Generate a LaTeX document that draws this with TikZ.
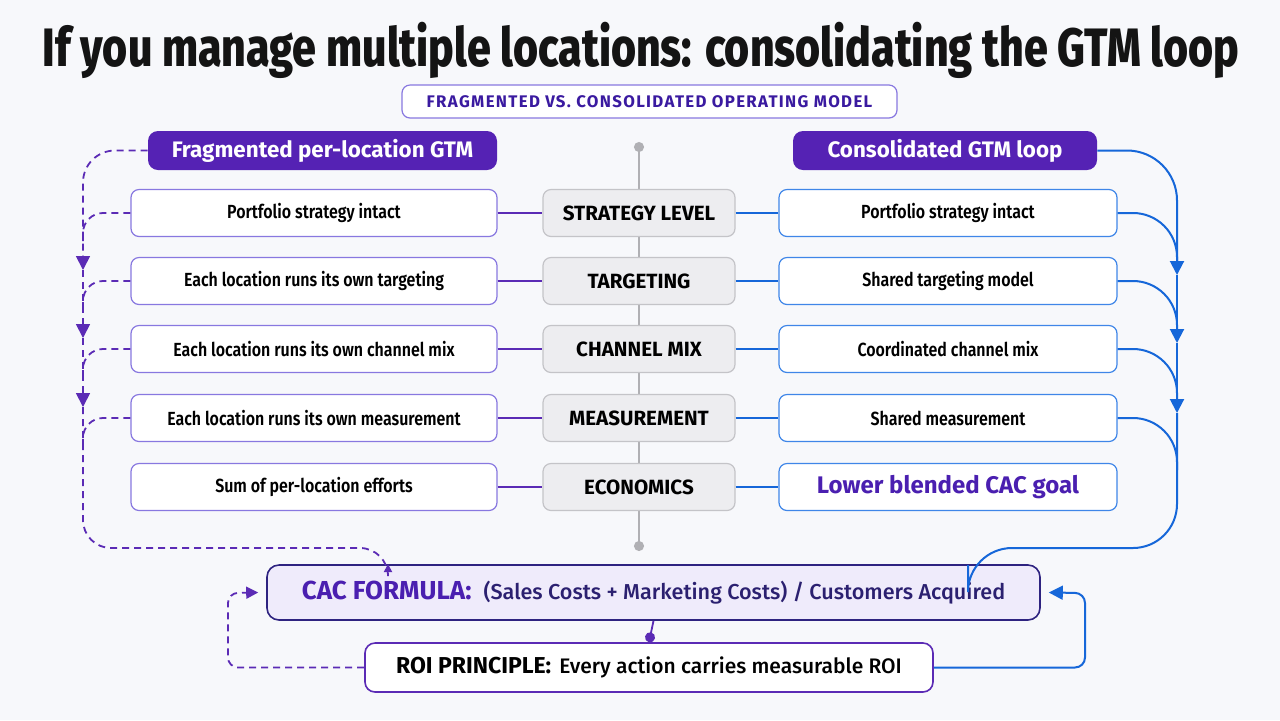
\documentclass[tikz,border=0pt]{standalone}
\usepackage{fontspec}
\setmainfont{Fira Sans}
\newfontfamily\titlefont{Fira Sans}[UprightFont=* ExtraBold, FakeStretch=0.795]
\newfontfamily\condfont{Fira Sans}[UprightFont=* SemiBold, FakeStretch=0.84]
\newfontfamily\medfont{Fira Sans}[UprightFont=* Medium]
\usepackage{xcolor}
\usepackage{tikz}
\usetikzlibrary{arrows.meta, positioning, calc}
\definecolor{bgcol}{HTML}{F7F8FB}
\definecolor{violet}{HTML}{5522B4}
\definecolor{fragline}{HTML}{5B2BB5}
\definecolor{fragborder}{HTML}{8878E0}
\definecolor{subtext}{HTML}{3A1AA0}
\definecolor{consblue}{HTML}{1667D9}
\definecolor{consborder}{HTML}{3F86E8}
\definecolor{cacfill}{HTML}{EFEBFB}
\definecolor{cacborder}{HTML}{2E2380}
\definecolor{cacpurple}{HTML}{4A1FB0}
\definecolor{cacnavy}{HTML}{2B2070}
\definecolor{levelfill}{HTML}{EDEDF0}
\definecolor{levelborder}{HTML}{C4C4C8}
\definecolor{axisgray}{HTML}{B0B0B4}
\tikzset{
  fragbox/.style={rectangle, draw=fragborder, fill=white, line width=0.6pt, rounded corners=4pt, minimum width=183pt, minimum height=23.5pt, font=\condfont\fontsize{9.5}{11}\selectfont},
  consbox/.style={rectangle, draw=consborder, fill=white, line width=0.6pt, rounded corners=4pt, minimum width=169pt, minimum height=23.5pt, font=\condfont\fontsize{9.5}{11}\selectfont},
  levelbox/.style={rectangle, draw=levelborder, fill=levelfill, line width=0.6pt, rounded corners=4pt, minimum width=96pt, minimum height=23.5pt, font=\bfseries\fontsize{10.3}{12}\selectfont},
  headbox/.style={rectangle, fill=violet, text=white, rounded corners=5pt, minimum height=19.5pt, font=\bfseries\fontsize{11.2}{13}\selectfont},
  fragline/.style={draw=fragline, line width=1.2pt},
  consline/.style={draw=consblue, line width=1.2pt},
  fragloop/.style={draw=fragline, line width=0.9pt, dashed, dash pattern=on 3.5pt off 2.5pt},
  consloop/.style={draw=consblue, line width=1pt},
  darrow/.style={-{Triangle[length=7pt, width=7pt]}},
}
\begin{document}
\begin{tikzpicture}[x=0.5pt, y=-0.5pt]
  \fill[bgcol] (0,0) rectangle (1280,720);
  \useasboundingbox (0,0) rectangle (1280,720);

  % Title and subtitle
  \node[font=\titlefont\fontsize{27}{30}\selectfont, text=black!92] (title) at (641,50) {If you manage multiple locations: consolidating the GTM loop};
  \node[draw=fragborder, fill=white, line width=0.6pt, rounded corners=4pt, minimum width=247.5pt, minimum height=16.5pt, text=subtext, font=\bfseries\fontsize{8.4}{10}\selectfont\addfontfeature{LetterSpace=8}] (subtitle) at (649.5,101.5) {FRAGMENTED VS. CONSOLIDATED OPERATING MODEL};

  % Central axis
  \coordinate (axistop) at (639,142);
  \coordinate (axisbot) at (639,551);
  \draw[axisgray, line width=0.8pt, {Circle[length=5pt]}-{Circle[length=5pt]}] (axistop) -- (axisbot);

  % Column headers
  \node[headbox, minimum width=174.5pt] (fraghead) at (322.5,150.5) {Fragmented per-location GTM};
  \node[headbox, minimum width=152pt] (conshead) at (945,150.5) {Consolidated GTM loop};

  % Rows
  \node[fragbox] (l1) at (314,213) {Portfolio strategy intact};
  \node[fragbox] (l2) at (314,281) {Each location runs its own targeting};
  \node[fragbox] (l3) at (314,349) {Each location runs its own channel mix};
  \node[fragbox] (l4) at (314,418) {Each location runs its own measurement};
  \node[fragbox] (l5) at (314,487) {Sum of per-location efforts};

  \node[levelbox] (c1) at (639,213) {STRATEGY LEVEL};
  \node[levelbox] (c2) at (639,281) {TARGETING};
  \node[levelbox] (c3) at (639,349) {CHANNEL MIX};
  \node[levelbox] (c4) at (639,418) {MEASUREMENT};
  \node[levelbox] (c5) at (639,487) {ECONOMICS};

  \node[consbox] (r1) at (948,213) {Portfolio strategy intact};
  \node[consbox] (r2) at (948,281) {Shared targeting model};
  \node[consbox] (r3) at (948,349) {Coordinated channel mix};
  \node[consbox] (r4) at (948,418) {Shared measurement};
  \node[consbox, text=cacpurple, font=\bfseries\fontsize{12}{14}\selectfont] (r5) at (948,487) {Lower blended CAC goal};

  \foreach \i in {1,...,5} {
    \draw[fragline] (l\i.east) -- (c\i.west);
    \draw[consline] (c\i.east) -- (r\i.west);
  }

  % Bottom boxes
  \node[draw=cacborder, fill=cacfill, line width=0.8pt, rounded corners=6pt, minimum width=386.5pt, minimum height=27.5pt] (cac) at (653.5,592.5)
    {{\bfseries\fontsize{13}{16}\selectfont\color{cacpurple}CAC FORMULA:}\hspace{6pt}{\medfont\fontsize{10.8}{13}\selectfont\color{cacnavy}(Sales Costs + Marketing Costs) / Customers Acquired}};
  \node[draw=fragline, fill=white, line width=0.8pt, rounded corners=5pt, minimum width=284pt, minimum height=24.5pt] (roi) at (649,667.5)
    {{\bfseries\fontsize{11.5}{13}\selectfont ROI PRINCIPLE:}\hspace{4pt}{\medfont\fontsize{10.5}{12}\selectfont Every action carries measurable ROI}};
  \draw[fragline, line width=0.9pt, -{Circle[length=5pt]}] (cac.south) -- (roi.north);

  % Fragmented loop (left)
  \coordinate (fa1) at (83,270);
  \coordinate (fa2) at (83,338);
  \coordinate (fa3) at (83,407);
  \coordinate (fend) at (388,564);
  \draw[fragloop, darrow, rounded corners=16pt] (fraghead.west) -| (fa1);
  \draw[fragloop, darrow] (fa1) -- (fa2);
  \draw[fragloop, darrow] (fa2) -- (fa3);
  \draw[fragloop, -{Triangle[length=4pt, width=4pt]}] (fa3) [rounded corners=14pt] -- (83,548) -- (388,548) [rounded corners=8pt] -- (fend);
  \draw[fragloop, rounded corners=10pt] (l1.west) -| (83,245);
  \draw[fragloop, rounded corners=10pt] (l2.west) -| (83,313);
  \draw[fragloop, rounded corners=10pt] (l3.west) -| (83,381);
  \draw[fragloop, rounded corners=10pt] (l4.west) -| (83,450);

  % Consolidated loop (right)
  \coordinate (ca1) at (1177,275);
  \coordinate (ca2) at (1177,343);
  \coordinate (ca3) at (1177,413);
  \coordinate (cend) at (968,565);
  \draw[consloop, darrow, rounded corners=25pt] (conshead.east) -| (ca1);
  \draw[consloop, darrow] (ca1) -- (ca2);
  \draw[consloop, darrow] (ca2) -- (ca3);
  \draw[consloop] (ca3) [rounded corners=22pt] -- (1177,548) -- (968,548) [rounded corners=8pt] -- (cend);
  \draw[consloop, rounded corners=22pt] (r1.east) -| (1177,265);
  \draw[consloop, rounded corners=22pt] (r2.east) -| (1177,333);
  \draw[consloop, rounded corners=22pt] (r3.east) -| (1177,401);
  \draw[consloop, rounded corners=22pt] (r4.east) -| (1177,470);

  % ROI feedback
  \draw[fragloop, -{Triangle[length=6pt, width=6pt]}, rounded corners=5pt] (roi.west) -| (228,593) -- ([xshift=-4pt]cac.west);
  \draw[consloop, -{Triangle[length=7pt, width=7pt]}, rounded corners=5pt] (roi.east) -| (1085,593) -- ([xshift=4pt]cac.east);
\end{tikzpicture}
\end{document}
